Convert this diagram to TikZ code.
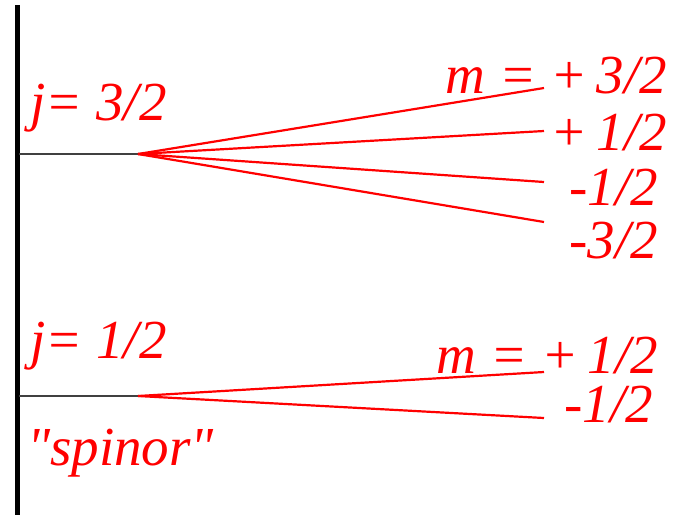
\documentclass[tikz,border=0pt]{standalone}
\usepackage{fontspec}
\setmainfont{Liberation Serif}
\usetikzlibrary{positioning}

\begin{document}
\begin{tikzpicture}[
		x=1pt, y=-1pt,
		line join=round,
		line cap=butt,
		axis/.style={black, line width=5pt},
		level/.style={black!75, line width=2.6pt},
		branch/.style={red, line width=2.2pt},
		lab/.style={red, font=\fontsize{55}{60}\selectfont\itshape, inner sep=0pt}
	]
	
	% Frame
	\useasboundingbox (0,0) rectangle (684,515);
	
	% Parameters
	\def\xs{138} % split point
	\def\xe{544} % branch ends
	
	% Axis
	\coordinate (axtop) at (17,5);
	\coordinate (axbot) at (17,515);
	\draw[axis] (axtop) -- (axbot);
	
	% j = 3/2 level
	\coordinate (jA) at (19,154);
	\coordinate (sA) at (\xs,154);
	\draw[level] (jA) -- (sA);
	\coordinate (mA1) at (\xe,88);
	\coordinate (mA2) at (\xe,131);
	\coordinate (mA3) at (\xe,182);
	\coordinate (mA4) at (\xe,222);
	\foreach \k in {1,...,4} {
		\draw[branch] (sA) -- (mA\k);
	}
	
	% j = 1/2 level
	\coordinate (jB) at (19,396);
	\coordinate (sB) at (\xs,396);
	\draw[level] (jB) -- (sB);
	\coordinate (mB1) at (\xe,372);
	\coordinate (mB2) at (\xe,418);
	\foreach \k in {1,2} {
		\draw[branch] (sB) -- (mB\k);
	}
	
	% Labels
	\node[lab, anchor=base west] (labA) at (30,120) {j= 3/2};
	\node[lab, anchor=base west] (labB) at (30,358) {j= 1/2};
	\node[lab, anchor=base west] (spin) at (27,465) {\textquotedbl spinor\textquotedbl};
	
	\node[lab, anchor=base east] (tA1) at (667,93) {m = +\,3/2};
	\node[lab, anchor=base east] (tA2) at (667,150) {+\,1/2};
	\node[lab, anchor=base east] (tA3) at (658,205) {-1/2};
	\node[lab, anchor=base east] (tA4) at (658,258) {-3/2};
	
	\node[lab, anchor=base east] (tB1) at (658,373) {m = +\,1/2};
	\node[lab, anchor=base east] (tB2) at (653,422) {-1/2};
	
\end{tikzpicture}
\end{document}
